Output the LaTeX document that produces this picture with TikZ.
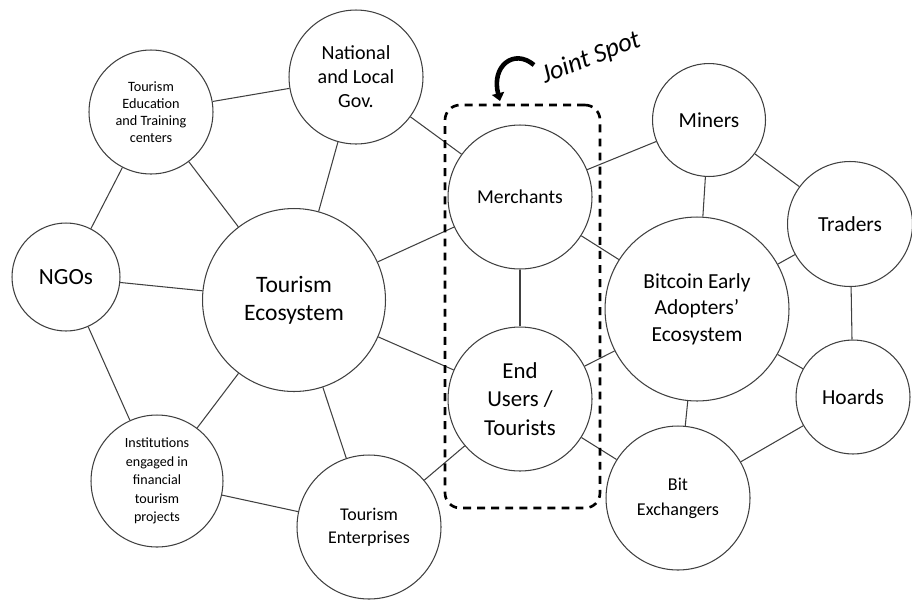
\documentclass[tikz,border=0pt]{standalone}
\usepackage{fontspec}
\setmainfont{Carlito}
\usetikzlibrary{arrows.meta}

\tikzset{
  bubble/.style={circle, draw=black!75, line width=0.6pt, inner sep=0pt, align=center, minimum size=#1},
  link/.style={draw=black!75, line width=0.6pt},
}

\begin{document}
\begin{tikzpicture}[x=0.02cm, y=-0.02cm]
                \useasboundingbox (0,0) rectangle (912,599);

                %% tourism side
                \node[bubble=2.48cm, font=\fontsize{8.1}{9.7}\selectfont] (edu) at (151,112) {Tourism\\Education\\and Training\\centers};
                \node[bubble=2.68cm, font=\fontsize{11.4}{13.6}\selectfont] (gov) at (356,77) {National\\and Local\\Gov.};
                \node[bubble=2.16cm, font=\fontsize{13.2}{15}\selectfont] (ngo) at (66,277) {NGOs};
                \node[bubble=3.66cm, font=\fontsize{13.4}{16}\selectfont] (teco) at (294,300) {Tourism\\Ecosystem};
                \node[bubble=2.64cm, font=\fontsize{8}{10.5}\selectfont] (inst) at (157,481) {Institutions\\engaged in\\financial\\tourism\\projects};
                \node[bubble=2.88cm, font=\fontsize{10.2}{13}\selectfont] (tent) at (369,527) {Tourism\\Enterprises};

                %% joint spot
                \node[bubble=2.88cm, font=\fontsize{11.2}{13.5}\selectfont] (merch) at (520,197) {Merchants};
                \node[bubble=2.88cm, font=\fontsize{13}{16.4}\selectfont] (users) at (520,399) {End\\Users /\\Tourists};

                %% bitcoin side
                \node[bubble=2.26cm, font=\fontsize{12.2}{14}\selectfont] (miners) at (709,120) {Miners};
                \node[bubble=2.50cm, font=\fontsize{12.2}{14}\selectfont] (traders) at (850,224) {Traders};
                \node[bubble=3.68cm, font=\fontsize{12.2}{15.2}\selectfont] (btc) at (697,309) {Bitcoin Early\\Adopters'\\Ecosystem};
                \node[bubble=2.28cm, font=\fontsize{12.2}{14}\selectfont] (hoards) at (853,397) {Hoards};
                \node[bubble=2.88cm, font=\fontsize{10.3}{14.2}\selectfont] (bitx) at (678,498) {Bit\\Exchangers};

                %% links
                \draw[link] (edu) -- (gov);
                \draw[link] (edu) -- (ngo);
                \draw[link] (edu) -- (teco);
                \draw[link] (gov) -- (teco);
                \draw[link] (gov) -- (merch);
                \draw[link] (ngo) -- (teco);
                \draw[link] (ngo) -- (inst);
                \draw[link] (teco) -- (merch);
                \draw[link] (teco) -- (users);
                \draw[link] (teco) -- (inst);
                \draw[link] (teco) -- (tent);
                \draw[link] (inst) -- (tent);
                \draw[link] (tent) -- (users);
                \draw[link] (merch) -- (users);
                \draw[link] (merch) -- (miners);
                \draw[link] (merch) -- (btc);
                \draw[link] (users) -- (btc);
                \draw[link] (users) -- (bitx);
                \draw[link] (miners) -- (btc);
                \draw[link] (miners) -- (traders);
                \draw[link] (traders) -- (btc);
                \draw[link] (traders) -- (hoards);
                \draw[link] (btc) -- (hoards);
                \draw[link] (btc) -- (bitx);
                \draw[link] (hoards) -- (bitx);

                %% dashed frame
                \node[draw, line width=1.5pt, dash pattern=on 4.5pt off 3.5pt, rounded corners=8.5pt,
                      minimum width=3.1cm, minimum height=8.06cm, inner sep=0pt] (joint) at (522.5,306.5) {};

                %% label
                \node[rotate=21, font=\fontsize{15}{17}\selectfont\itshape] (jslabel) at (591,58) {Joint Spot};
                \coordinate (tail) at (534,65);
                \coordinate (tip) at (500,101);
                \draw[line width=2.6pt, -{Triangle[length=4.5pt, width=7pt]}] (tail) .. controls (514,48) and (491,66) .. (tip);

\end{tikzpicture}
\end{document}
